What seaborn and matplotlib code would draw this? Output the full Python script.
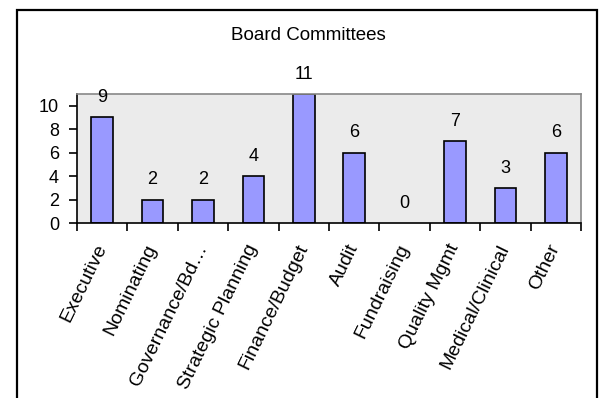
import matplotlib
matplotlib.use("Agg")
import matplotlib.pyplot as plt
import seaborn as sns
import pandas as pd
from matplotlib.patches import Rectangle

categories = ["Executive", "Nominating", "Governance/Bd\u2026", "Strategic Planning",
              "Finance/Budget", "Audit", "Fundraising", "Quality Mgmt",
              "Medical/Clinical", "Other"]
values = [9, 2, 2, 4, 11, 6, 0, 7, 3, 6]
yticks = [0, 2, 4, 6, 8, 10]
title = "Board Committees"

plt.rcParams['font.family'] = ['Liberation Sans', 'DejaVu Sans']

df = pd.DataFrame({"cat": categories, "val": values})

W, H = 600, 398
FS = 13
fig = plt.figure(figsize=(W / 100, H / 100), dpi=100)
ax = fig.add_axes([77 / W, 1 - 223 / H, (581 - 77) / W, (223 - 94) / H])

sns.barplot(data=df, x="cat", y="val", color="#9999FF", saturation=1,
            edgecolor="black", linewidth=1.2, width=0.43, ax=ax)
for p in ax.patches:
    if p.get_height() == 0:
        p.set_linewidth(0)

ax.set_facecolor("#EBEBEB")
ax.set_ylim(0, 11)
ax.set_xlim(-0.5, len(categories) - 0.5)
ax.set_xlabel("")
ax.set_ylabel("")
ax.set_yticks(yticks)
ax.set_yticklabels([str(v) for v in yticks], fontsize=FS)

# category labels at centers, tick marks at boundaries
ax.set_xticks(range(len(categories)))
ax.set_xticklabels(categories, rotation=64, ha="right", va="center",
                   rotation_mode="anchor", fontsize=14)
ax.tick_params(axis="x", which="major", length=0, pad=16)
ax.set_xticks([i - 0.5 for i in range(len(categories) + 1)], minor=True)
ax.tick_params(axis="x", which="minor", length=6, width=1.2, color="black",
               direction="out")
ax.tick_params(axis="y", length=6, width=1.2, direction="out", pad=7)

for s in ["top", "right"]:
    ax.spines[s].set_color("#888888")
    ax.spines[s].set_linewidth(1.2)
for s in ["left", "bottom"]:
    ax.spines[s].set_color("black")
    ax.spines[s].set_linewidth(1.2)

for i, v in enumerate(values):
    ax.annotate(str(v), (i, v), xytext=(0, 11), textcoords="offset points",
                ha="center", va="baseline", fontsize=FS, clip_on=False)

fig.text(308 / W, 1 - 35 / H, title, ha="center", va="center", fontsize=13.5)

# outer chart border (bottom edge off the image)
fig.patches.append(Rectangle((17 / W, -0.05), (597 - 17) / W, (1 - 10 / H) + 0.05,
                             transform=fig.transFigure, fill=False,
                             edgecolor="black", linewidth=1.6))

fig.savefig("out.png", dpi=100)
